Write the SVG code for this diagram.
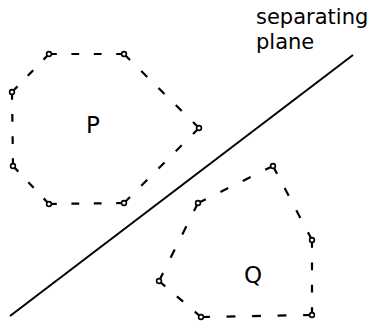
<svg xmlns="http://www.w3.org/2000/svg" width="374" height="322" viewBox="0 0 374 322">
<style>
.e{stroke:#000;stroke-width:2.2;fill:none;stroke-dasharray:8 15}
.v{fill:#fff;stroke:#000;stroke-width:1.6}
.t{font-family:"DejaVu Sans",sans-serif;fill:#000}
</style>
<rect width="374" height="322" fill="#fff"/>
<g id="connectors">
<line id="plane-line" x1="10" y1="316" x2="353" y2="55" stroke="#000" stroke-width="2"/>
</g>
<g id="P">
<line class="e" pathLength="77" x1="49" y1="54" x2="124" y2="54"/>
<line class="e" pathLength="100" x1="124" y1="54" x2="199" y2="128"/>
<line class="e" pathLength="100" x1="199" y1="128" x2="124" y2="203"/>
<line class="e" pathLength="77" x1="124" y1="203" x2="49" y2="204"/>
<line class="e" pathLength="54" x1="49" y1="204" x2="13" y2="166"/>
<line class="e" pathLength="77" x1="13" y1="166" x2="12" y2="92"/>
<line class="e" pathLength="54" x1="12" y1="92" x2="49" y2="54"/>
<circle class="v" cx="49" cy="54" r="2.4"/>
<circle class="v" cx="124" cy="54" r="2.4"/>
<circle class="v" cx="199" cy="128" r="2.4"/>
<circle class="v" cx="124" cy="203" r="2.4"/>
<circle class="v" cx="49" cy="204" r="2.4"/>
<circle class="v" cx="13" cy="166" r="2.4"/>
<circle class="v" cx="12" cy="92" r="2.4"/>
<text class="t" x="93" y="133" font-size="23" text-anchor="middle">P</text>
</g>
<g id="Q">
<line class="e" pathLength="77" x1="273" y1="166" x2="312" y2="240"/>
<line class="e" pathLength="77" x1="312" y1="240" x2="312" y2="315"/>
<line class="e" pathLength="100" x1="312" y1="315" x2="201" y2="317"/>
<line class="e" pathLength="54" x1="201" y1="317" x2="159" y2="281"/>
<line class="e" pathLength="77" x1="159" y1="281" x2="198" y2="203"/>
<line class="e" pathLength="77" x1="198" y1="203" x2="273" y2="166"/>
<circle class="v" cx="273" cy="166" r="2.4"/>
<circle class="v" cx="312" cy="240" r="2.4"/>
<circle class="v" cx="312" cy="315" r="2.4"/>
<circle class="v" cx="201" cy="317" r="2.4"/>
<circle class="v" cx="159" cy="281" r="2.4"/>
<circle class="v" cx="198" cy="203" r="2.4"/>
<text class="t" x="253" y="283" font-size="23" text-anchor="middle">Q</text>
</g>
<g id="label">
<text class="t" x="256" y="24" font-size="21">separating</text>
<text class="t" x="256" y="49" font-size="21">plane</text>
</g>
</svg>
